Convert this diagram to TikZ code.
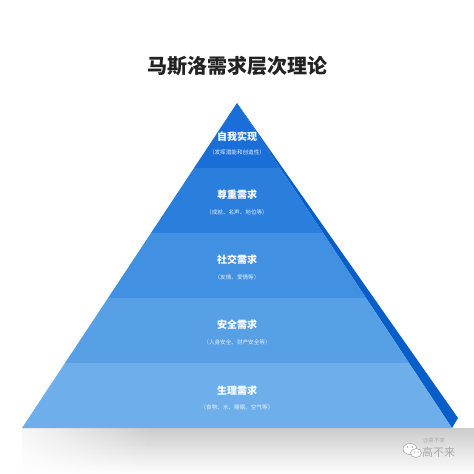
\documentclass[tikz,border=0pt]{standalone}
\usepackage{fontspec}
\newfontfamily\cjk{Noto Sans CJK SC}
\usetikzlibrary{calc,fadings}
\definecolor{cA}{RGB}{26,110,215}
\definecolor{cB}{RGB}{42,126,220}
\definecolor{cC}{RGB}{66,144,225}
\definecolor{cD}{RGB}{88,160,230}
\definecolor{cE}{RGB}{110,175,235}
\definecolor{cSide}{RGB}{8,94,200}
\definecolor{titlegray}{RGB}{34,34,34}
\definecolor{wm}{RGB}{170,170,170}
\begin{document}
\begin{tikzpicture}[x=1pt,y=-1pt,
  lvtitle/.style={text=white, font=\cjk\bfseries\fontsize{10}{12}\selectfont, inner sep=0pt},
  lvsub/.style={text=white!88!cB, font=\cjk\fontsize{5.6}{7}\selectfont, inner sep=0pt}]
\useasboundingbox (0,0) rectangle (474,474);
\fill[white] (0,0) rectangle (474,474);
% title
\node[font=\cjk\bfseries\fontsize{20}{24}\selectfont, text=titlegray, inner sep=0pt] (title) at (237,66) {马斯洛需求层次理论};
% geometry
\coordinate (apex) at (237,103);
\coordinate (bl) at (22,428);
\coordinate (br) at (452,428);
\coordinate (bk) at (458,418);
% shadow
\fill[black!20, path fading=south] (22,428) rectangle (474,474);
\fill[white, path fading=east] (0,428) rectangle (150,474);
% side face
\fill[cSide] (apex) -- (br) -- (bk) -- cycle;
% layers
\fill[cA] (apex) -- ($(apex)!0.2!(br)$) -- ($(apex)!0.2!(bl)$) -- cycle;
\fill[cB] ($(apex)!0.2!(bl)$) -- ($(apex)!0.2!(br)$) -- ($(apex)!0.4!(br)$) -- ($(apex)!0.4!(bl)$) -- cycle;
\fill[cC] ($(apex)!0.4!(bl)$) -- ($(apex)!0.4!(br)$) -- ($(apex)!0.6!(br)$) -- ($(apex)!0.6!(bl)$) -- cycle;
\fill[cD] ($(apex)!0.6!(bl)$) -- ($(apex)!0.6!(br)$) -- ($(apex)!0.8!(br)$) -- ($(apex)!0.8!(bl)$) -- cycle;
\fill[cE] ($(apex)!0.8!(bl)$) -- ($(apex)!0.8!(br)$) -- (br) -- (bl) -- cycle;
% texts
\node[lvtitle] (t1) at (237,137) {自我实现};
\node[lvsub]   (s1) at (237,152) {（发挥潜能和创造性）};
\node[lvtitle] (t2) at (237,195) {尊重需求};
\node[lvsub]   (s2) at (237,212) {（成就、名声、地位等）};
\node[lvtitle] (t3) at (237,260) {社交需求};
\node[lvsub]   (s3) at (237,277) {（友情、爱情等）};
\node[lvtitle] (t4) at (237,325) {安全需求};
\node[lvsub]   (s4) at (237,342) {（人身安全、财产安全等）};
\node[lvtitle] (t5) at (237,391) {生理需求};
\node[lvsub]   (s5) at (237,407) {（食物、水、睡眠、空气等）};
% watermark
\draw[wm, fill=white, line width=0.6pt] (410,449) ellipse [x radius=7, y radius=5.5];
\draw[wm, fill=white, line width=0.6pt] (416,453) ellipse [x radius=5.5, y radius=4.5];
\fill[wm] (407.5,447) circle (0.8) (412.5,447) circle (0.8);
\fill[wm] (414.5,452) circle (0.6) (418,452) circle (0.6);
\node[text=wm, font=\cjk\fontsize{5.5}{6}\selectfont, anchor=west, inner sep=0pt] (wm1) at (423,441) {@高不来};
\node[text=wm, font=\cjk\fontsize{11}{12}\selectfont, anchor=west, inner sep=0pt] (wm2) at (422,452) {高不来};
\end{tikzpicture}
\end{document}
